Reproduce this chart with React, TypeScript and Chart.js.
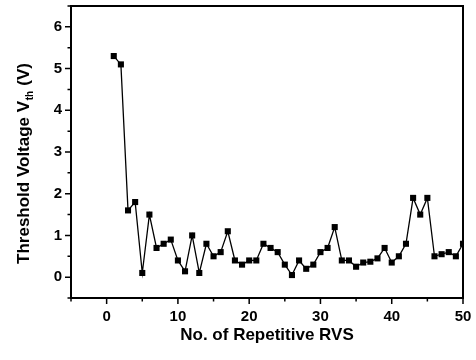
import React, { useEffect, useRef } from "react";
import { Chart, registerables } from "chart.js";

Chart.register(...registerables);

const runs: number[] = [
  1, 2, 3, 4, 5, 6, 7, 8, 9, 10,
  11, 12, 13, 14, 15, 16, 17, 18, 19, 20,
  21, 22, 23, 24, 25, 26, 27, 28, 29, 30,
  31, 32, 33, 34, 35, 36, 37, 38, 39, 40,
  41, 42, 43, 44, 45, 46, 47, 48, 49, 50,
];
const vth: number[] = [
  5.3, 5.1, 1.6, 1.8, 0.1, 1.5, 0.7, 0.8, 0.9, 0.4,
  0.14, 1.0, 0.1, 0.8, 0.5, 0.6, 1.1, 0.4, 0.3, 0.4,
  0.4, 0.8, 0.7, 0.6, 0.3, 0.05, 0.4, 0.2, 0.3, 0.6,
  0.7, 1.2, 0.4, 0.4, 0.25, 0.35, 0.37, 0.45, 0.7, 0.35,
  0.5, 0.8, 1.9, 1.5, 1.9, 0.5, 0.55, 0.6, 0.5, 0.8,
];
const xMajorTicks: number[] = [0, 10, 20, 30, 40, 50];
const xMinorTicks: number[] = [-5, 5, 15, 25, 35, 45];
const yMajorTicks: number[] = [0, 1, 2, 3, 4, 5, 6];
const yMinorTicks: number[] = [-0.5, 0.5, 1.5, 2.5, 3.5, 4.5, 5.5, 6.5];

const xTitle = "No. of Repetitive RVS";
const yTitleMain = "Threshold Voltage V";
const yTitleSub = "th";
const yTitleEnd = " (V)";

const FONT = "'Liberation Sans', Arial, sans-serif";

const framePlugin = {
  id: "framePlugin",
  afterDraw(chart: any) {
    const ctx = chart.ctx;
    const { left, right, top, bottom } = chart.chartArea;
    const xs = chart.scales.x;
    const ys = chart.scales.y;
    ctx.save();
    ctx.strokeStyle = "#000";
    ctx.lineWidth = 2;
    ctx.strokeRect(left, top, right - left, bottom - top);
    ctx.lineWidth = 1.5;
    ctx.beginPath();
    xMajorTicks.forEach((v) => {
      const px = xs.getPixelForValue(v);
      ctx.moveTo(px, bottom);
      ctx.lineTo(px, bottom + 6);
    });
    xMinorTicks.forEach((v) => {
      const px = xs.getPixelForValue(v);
      ctx.moveTo(px, bottom);
      ctx.lineTo(px, bottom + 3.5);
    });
    yMajorTicks.forEach((v) => {
      const py = ys.getPixelForValue(v);
      ctx.moveTo(left, py);
      ctx.lineTo(left - 6, py);
    });
    yMinorTicks.forEach((v) => {
      const py = ys.getPixelForValue(v);
      ctx.moveTo(left, py);
      ctx.lineTo(left - 3.5, py);
    });
    ctx.stroke();

    // y title with subscript
    ctx.fillStyle = "#000";
    ctx.textBaseline = "middle";
    ctx.textAlign = "left";
    const mainFont = `bold 17px ${FONT}`;
    const subFont = `bold 10px ${FONT}`;
    ctx.font = mainFont;
    const w1 = ctx.measureText(yTitleMain).width;
    const w3 = ctx.measureText(yTitleEnd).width;
    ctx.font = subFont;
    const w2 = ctx.measureText(yTitleSub).width;
    const total = w1 + w2 + w3;
    ctx.translate(24, 164);
    ctx.rotate(-Math.PI / 2);
    const sx = -total / 2;
    ctx.font = mainFont;
    ctx.fillText(yTitleMain, sx, 0);
    ctx.font = subFont;
    ctx.fillText(yTitleSub, sx + w1 + 0.5, 6);
    ctx.font = mainFont;
    ctx.fillText(yTitleEnd, sx + w1 + w2 + 1, 0);
    ctx.restore();
  },
};

export default function App() {
  const ref = useRef<HTMLCanvasElement | null>(null);
  useEffect(() => {
    if (!ref.current) return;
    const chart = new Chart(ref.current, {
      type: "line",
      data: {
        datasets: [
          {
            data: runs.map((r, i) => ({ x: r, y: vth[i] })),
            borderColor: "#000",
            backgroundColor: "#000",
            borderWidth: 1.3,
            pointStyle: "rect",
            pointRadius: 4.3,
            pointBorderWidth: 0,
            pointBackgroundColor: "#000",
            tension: 0,
          },
        ],
      },
      options: {
        animation: false,
        responsive: false,
        maintainAspectRatio: false,
        layout: { padding: { top: 6, right: 13, left: 0, bottom: 0 } },
        plugins: {
          legend: { display: false },
          tooltip: { enabled: false },
        },
        scales: {
          x: {
            type: "linear",
            min: -5,
            max: 50,
            afterFit: (s: any) => {
              s.height = 62;
              s.paddingLeft = 0;
              s.paddingRight = 0;
            },
            afterBuildTicks: (s: any) => {
              s.ticks = xMajorTicks.map((v) => ({ value: v }));
            },
            grid: { display: false, drawTicks: false },
            border: { display: false },
            ticks: {
              color: "#000",
              font: { family: FONT, size: 15, weight: "bold" },
              padding: 10,
              maxRotation: 0,
            },
            title: {
              display: true,
              text: xTitle,
              color: "#000",
              font: { family: FONT, size: 17, weight: "bold" },
              padding: { top: 0, bottom: 14 },
            },
          },
          y: {
            type: "linear",
            min: -0.5,
            max: 6.5,
            afterFit: (s: any) => {
              s.width = 71;
              s.paddingTop = 0;
              s.paddingBottom = 0;
            },
            afterBuildTicks: (s: any) => {
              s.ticks = yMajorTicks.map((v) => ({ value: v }));
            },
            grid: { display: false, drawTicks: false },
            border: { display: false },
            ticks: {
              color: "#000",
              font: { family: FONT, size: 15, weight: "bold" },
              padding: 9,
            },
          },
        },
      },
      plugins: [framePlugin],
    });
    return () => chart.destroy();
  }, []);
  return (
    <div style={{ position: "fixed", left: 0, top: 0, width: 476, height: 360, background: "#fff" }}>
      <canvas ref={ref} width={476} height={360} style={{ width: 476, height: 360 }} />
    </div>
  );
}
